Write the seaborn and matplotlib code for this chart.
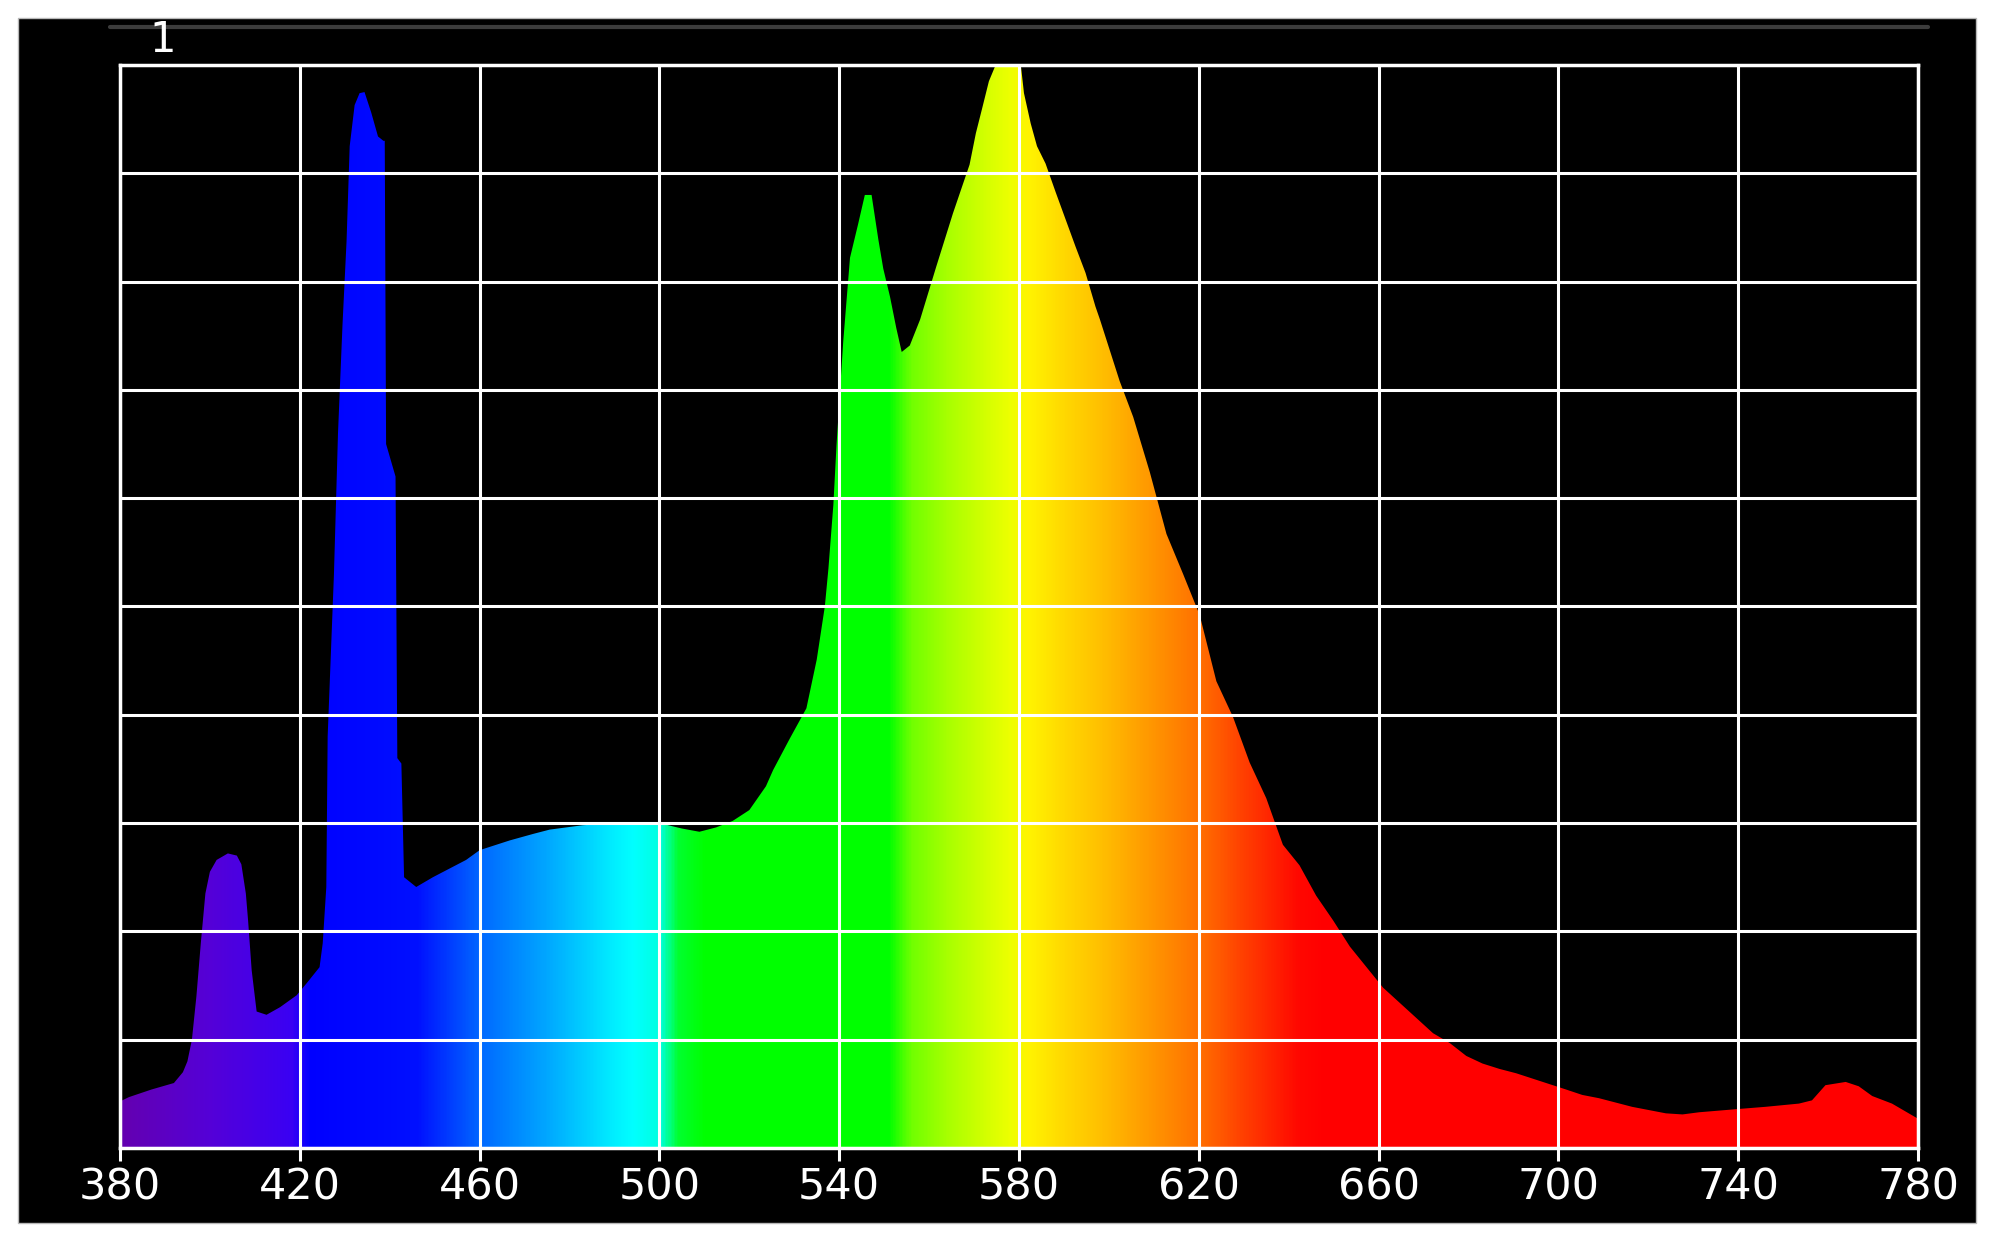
import numpy as np
import matplotlib
matplotlib.use("Agg")
import matplotlib.pyplot as plt
import seaborn as sns
from matplotlib.colors import LinearSegmentedColormap
from matplotlib.patches import Rectangle
from matplotlib.lines import Line2D

# spectrum (nm, relative intensity)
wavelength = [380, 382, 387, 392, 394, 395, 396, 397, 398, 399, 400, 401.5, 404, 406, 407, 408,
              408.5, 409.3, 410.4, 412.6, 415.6, 419.3, 421.5, 424.4, 425.1, 425.9, 426.2, 427.6,
              428.5, 429.5, 430.4, 431.1, 432.2, 433.3, 434.4, 435.9, 437.4, 438.6, 438.9, 439.2,
              441.3, 441.7, 442.6, 443.2, 445.9, 449.6, 457, 460, 466.7, 471.9, 475.6, 482.9, 490,
              500, 505, 508.9, 512.6, 516.3, 520, 523.7, 525.3, 529, 532.7, 535, 536.8, 537.6,
              538.7, 539.4, 540.9, 542.4, 544.2, 545.7, 547.2, 548.7, 549.8, 551.3, 552.7, 553.9,
              555.7, 558, 561.6, 565.3, 569, 570.4, 571.8, 573.3, 574.8, 580.4, 581.1, 582.6, 584,
              585.9, 588.2, 590.4, 592.6, 594.8, 597, 598, 602.4, 605.4, 609.1, 612.8, 616.5,
              620.2, 623.9, 627.6, 631.3, 635, 638.7, 642.4, 646.1, 649.9, 653.6, 657.3, 661,
              664.7, 668.4, 672.1, 675.8, 679.5, 683.1, 686.9, 690.6, 694.3, 698, 701.7, 705.3,
              709, 716.4, 723.9, 727.6, 731.3, 740, 746, 753.5, 756.4, 759.4, 763.9, 766.8, 769.8,
              774.2, 780]
intensity = [0.043, 0.047, 0.054, 0.060, 0.070, 0.080, 0.100, 0.140, 0.190, 0.235, 0.255, 0.266,
             0.272, 0.270, 0.262, 0.235, 0.210, 0.164, 0.126, 0.123, 0.130, 0.141, 0.152, 0.167,
             0.189, 0.241, 0.380, 0.530, 0.660, 0.760, 0.837, 0.925, 0.963, 0.974, 0.975, 0.956,
             0.934, 0.930, 0.930, 0.650, 0.620, 0.360, 0.355, 0.250, 0.241, 0.250, 0.266, 0.275,
             0.284, 0.290, 0.294, 0.298, 0.300, 0.300, 0.295, 0.292, 0.296, 0.302, 0.312, 0.334,
             0.349, 0.378, 0.406, 0.451, 0.500, 0.535, 0.594, 0.649, 0.745, 0.822, 0.853, 0.880,
             0.880, 0.839, 0.812, 0.786, 0.757, 0.735, 0.741, 0.765, 0.814, 0.863, 0.908, 0.937,
             0.960, 0.985, 1.000, 1.000, 0.974, 0.946, 0.925, 0.909, 0.882, 0.857, 0.832, 0.808,
             0.777, 0.765, 0.708, 0.675, 0.624, 0.567, 0.530, 0.492, 0.431, 0.398, 0.356, 0.323,
             0.280, 0.261, 0.233, 0.210, 0.186, 0.167, 0.148, 0.134, 0.120, 0.106, 0.097, 0.085,
             0.078, 0.073, 0.069, 0.064, 0.059, 0.054, 0.049, 0.046, 0.038, 0.032, 0.031, 0.033,
             0.036, 0.038, 0.041, 0.044, 0.058, 0.061, 0.057, 0.048, 0.041, 0.027]
x_ticks = [380, 420, 460, 500, 540, 580, 620, 660, 700, 740, 780]
channel_label = "1"

# colour of the light at each wavelength
color_nm = [380, 400, 418, 422, 446, 460, 475, 490, 494, 500, 504, 510, 551, 553, 556, 564,
            571, 578, 582, 590, 598, 609, 620, 628, 635, 642, 648, 780]
color_hex = ["#6400b0", "#5400d8", "#3a00f4", "#0000ff", "#0010ff", "#0068ff", "#00a8ff",
             "#00f0ff", "#00ffff", "#00ffe0", "#00ff30", "#00ff00", "#00ff00", "#30ff00",
             "#70ff00", "#a8ff00", "#ccff00", "#eeff00", "#fff400", "#ffd800", "#ffc000",
             "#ff9800", "#ff7000", "#ff4800", "#ff2800", "#ff0800", "#ff0000", "#ff0000"]

sns.set_theme(style="dark", rc={"axes.facecolor": "black", "figure.facecolor": "white",
                                "axes.edgecolor": "white", "grid.color": "white"})
plt.rcParams["font.family"] = ["DejaVu Sans"]

fig = plt.figure(figsize=(19.93, 12.38), dpi=100)
fig.add_artist(Rectangle((0.009, 0.0121), 0.9824, 0.9733, transform=fig.transFigure,
                         facecolor="black", edgecolor="#b8b8b8", lw=1, zorder=-1))
fig.add_artist(Line2D([0.0552, 0.9674], [0.9782, 0.9782], transform=fig.transFigure,
                      color="#3c3c3c", lw=3))
fig.text(0.0818, 0.9677, channel_label, color="white", fontsize=30, ha="center", va="center")

ax = fig.add_axes([0.0602, 0.0727, 0.9022, 0.8748])

lo, hi = color_nm[0], color_nm[-1]
cmap = LinearSegmentedColormap.from_list(
    "spectrum", [((w - lo) / (hi - lo), c) for w, c in zip(color_nm, color_hex)], N=1024)

poly = ax.fill_between(wavelength, intensity, 0, facecolor="none", edgecolor="none")
grad = np.linspace(lo, hi, 1601)[np.newaxis, :]
img = ax.imshow(grad, cmap=cmap, vmin=lo, vmax=hi, extent=[lo, hi, 0, 1],
                aspect="auto", origin="lower", zorder=0)
img.set_clip_path(poly.get_paths()[0], transform=ax.transData)

ax.set_xlim(380, 780)
ax.set_ylim(0, 1)
ax.set_xticks(x_ticks)
ax.set_yticks(np.arange(0, 1.01, 0.1))
ax.set_axisbelow(False)
ax.grid(True, color="white", lw=2.2)
ax.tick_params(axis="x", bottom=True, colors="white", length=9.5, width=2.2,
               labelsize=31, pad=4, direction="out")
ax.tick_params(axis="y", left=False, labelleft=False)
for sp in ax.spines.values():
    sp.set_color("white")
    sp.set_linewidth(2.5)

fig.savefig("out.png", dpi=100, facecolor="white")
